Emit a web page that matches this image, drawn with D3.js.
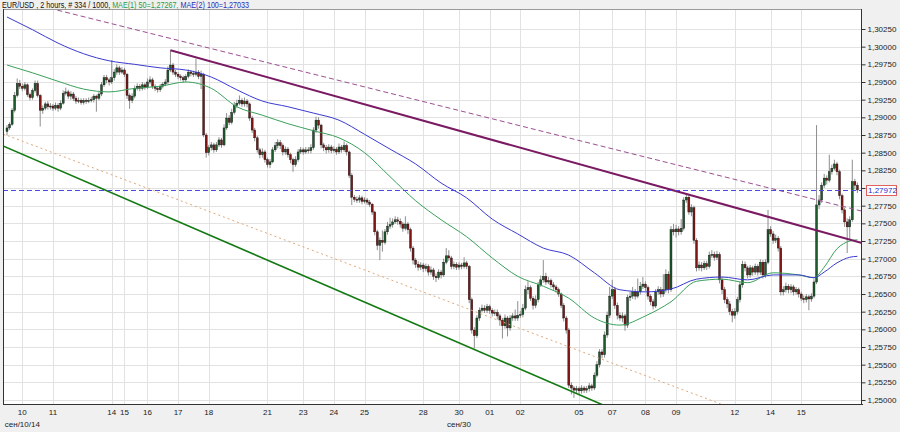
<!DOCTYPE html>
<html><head><meta charset="utf-8">
<script src="https://cdn.jsdelivr.net/npm/d3@7"></script>
<style>
html,body{margin:0;padding:0;background:#f0f0f0;}
svg{display:block;}
text{font-family:"Liberation Sans",Arial,sans-serif;}
</style></head><body>
<svg id="chart" width="900" height="432"></svg>
<script>
// ---------------- DATA ----------------
const titleParts = ["EUR/USD , 2 hours, # 334 / 1000, ", "MAE(1) 50=1,27267, ", "MAE(2) 100=1,27033"];
// prices are stored in pips above 1.2000  (price = 1.2 + v * 0.0001)
const PRICE_BASE = 1.2, PIP = 0.0001;
const firstOpen = 880;
const closes = [
885,890,910,931,948,944,941,946,932,928,
938,948,931,910,913,919,915,916,913,917,
913,920,934,936,930,933,927,923,924,921,
924,923,924,925,930,927,933,946,956,953,
950,956,964,970,964,967,961,931,924,930,
941,944,941,946,943,950,953,944,941,939,
944,947,950,967,974,964,961,958,956,953,
958,964,962,961,964,958,961,875,850,857,
861,854,861,868,861,885,899,893,907,917,
920,924,919,923,919,899,882,871,854,847,
851,840,833,837,854,860,864,860,851,855,
847,840,833,840,851,854,851,854,853,857,
882,896,889,861,857,854,858,853,855,851,
858,854,860,851,818,787,784,783,786,781,
783,780,777,766,738,719,726,723,738,746,
748,752,755,753,749,743,749,741,715,698,
692,688,691,686,689,681,684,675,673,681,
677,695,704,701,689,692,688,691,689,694,
689,642,599,591,616,627,630,627,632,627,
623,624,619,613,605,616,602,616,619,616,
620,621,630,656,659,644,634,642,663,670,
675,667,669,663,660,656,650,634,616,599,
521,517,514,516,513,517,514,516,520,517,
535,550,568,564,592,620,647,656,634,620,
616,619,606,645,647,653,647,653,661,664,
659,647,639,633,653,656,650,656,678,656,
741,738,742,738,743,783,787,766,772,726,
687,691,687,693,689,705,706,702,706,670,
656,642,636,625,620,625,642,663,692,687,
677,687,681,689,681,695,677,695,741,735,
726,729,715,653,656,661,656,660,653,656,
650,644,642,646,643,647,667,776,783,804,
814,811,823,828,834,823,789,769,752,745,
755,809,804,797.2];
const highs = [
889,893,913,936,955,953,948,950,948,935,
941,952,952,933,917,922,923,920,919,921,
920,924,938,942,939,937,936,930,928,927,
927,927,928,929,933,932,936,950,960,960,
956,981,968,975,973,971,970,963,934,934,
945,948,947,950,949,955,958,956,947,944,
947,950,954,972,995,977,967,964,961,959,
961,968,967,966,983,967,966,963,878,861,
865,864,865,872,871,890,906,903,912,922,
925,931,927,928,926,921,902,885,874,857,
856,854,843,841,858,865,869,868,863,859,
858,850,843,845,855,858,857,858,858,862,
886,901,900,891,864,861,862,861,859,858,
863,861,866,863,853,821,790,788,790,789,
787,786,783,779,768,741,730,740,742,752,
758,757,760,759,757,752,760,752,744,718,
701,696,695,694,693,692,689,687,679,685,
684,700,715,712,704,696,695,695,694,702,
697,691,645,603,620,631,635,634,636,635,
630,628,628,622,616,621,619,620,623,628,
640,626,636,662,668,662,647,648,667,676,
698,680,674,672,667,663,659,652,637,619,
602,525,520,520,519,521,520,520,524,523,
539,555,572,572,597,625,660,670,660,638,
624,624,622,649,653,660,657,672,667,674,
668,662,650,643,657,661,660,678,685,682,
746,749,748,746,756,787,792,790,777,775,
729,696,695,697,697,710,712,710,711,709,
674,660,646,640,629,630,646,667,697,696,
690,691,690,693,692,699,698,699,769,746,
739,734,732,718,661,666,664,664,663,660,
659,653,648,650,649,651,671,889,790,808,
820,818,847,833,840,837,826,792,772,757,
760,840,813,808];
const lows = [
875,882,888,907,928,940,937,938,929,924,
925,935,928,887,905,910,911,911,909,910,
908,910,918,931,926,925,923,919,920,918,
918,919,920,921,921,908,924,930,943,948,
945,947,952,960,960,961,957,926,912,920,
927,938,937,938,939,940,947,940,937,935,
936,941,944,947,964,960,957,954,952,949,
950,955,958,957,958,954,940,872,843,846,
853,850,851,858,857,859,882,889,890,904,
913,917,915,915,914,895,878,866,850,842,
843,836,829,828,835,851,856,855,846,847,
843,835,823,830,837,848,847,848,849,849,
854,878,884,856,852,849,850,849,850,847,
848,850,851,846,814,776,780,779,779,777,
778,776,773,762,733,712,698,710,720,734,
742,744,749,748,744,738,740,735,710,692,
687,683,684,681,682,676,677,670,667,670,
672,674,692,697,685,685,684,684,685,686,
685,637,594,573,588,612,624,623,623,622,
618,619,614,605,587,601,590,598,612,612,
612,616,617,627,650,640,628,630,638,660,
666,663,664,659,656,652,646,630,611,594,
517,508,503,509,507,509,510,510,512,513,
514,532,546,559,560,588,616,643,629,614,
612,610,598,602,640,643,642,644,649,657,
654,642,634,628,630,649,645,646,652,651,
653,733,730,733,734,740,779,762,760,721,
682,683,682,684,684,686,701,697,698,665,
650,637,630,620,610,615,621,638,659,682,
672,673,676,677,676,677,672,673,692,731,
721,722,710,648,648,652,651,651,648,649,
645,640,637,638,627,639,644,664,770,779,
800,805,808,819,825,818,784,764,745,708,
727,752,798,793];
// moving averages (bar index -> pips above 1.2000)
const maBars = [0,10,20,30,40,50,60,70,80,90,100,110,120,130,140,150,160,170,180,190,200,210,220,230,240,250,260,270,280,290,300,310,316,320,325,330,333];
const ma50  = [974,963,951,940,936,941,944,950,941,915,903,891,881,871,850,816,782,755,731,701,675,661,644,616,606,619,639,668,671,666,680,677,673,688,714,725,726.7];
const ma100 = [1042,1024,1005,990,980,975,970,967,957,939,923,915,906,896,876,855,834,807,786,756,735,715,705,680,656,653,657,671,674,670,677,677,673,681,694,702,703.3];
// price axis
const yTickValues = [1.25,1.2525,1.255,1.2575,1.26,1.2625,1.265,1.2675,1.27,1.2725,1.275,1.2775,1.28,1.2825,1.285,1.2875,1.29,1.2925,1.295,1.2975,1.30,1.3025];
// time axis
const xTickBars   = [6,18,41,46,55,67,79,102,116,128,140,163,177,189,201,224,237,250,262,285,299,311];
const xTickLabels = ["10","11","14","15","16","17","18","21","23","24","25","28","30","01","02","05","07","08","09","12","14","15"];
const xSubBars   = [6,177];
const xSubLabels = ["сен/10/14","сен/30"];
const lastPrice = 1.27972;
// trend lines: two anchors [bar index, price] each
const resistanceLine = [[64,1.2995],[335,1.2722]];
const channelTopLine = [[0,1.30695],[335,1.2767]];
const supportLine    = [[0,1.2857],[234,1.2492]];
const midLine        = [[0,1.28744],[279,1.2495]];

// ---------------- DRAW ----------------
const W = 900, H = 432;
const plot = {left:3, top:9, right:862, bottom:405};
const svg = d3.select('#chart');
const toPrice = v => PRICE_BASE + v * PIP;
const N = closes.length;

svg.append('rect').attr('width', W).attr('height', H).attr('fill', '#f0f0f0');
svg.append('rect').attr('x', plot.left).attr('y', plot.top)
  .attr('width', plot.right - plot.left).attr('height', plot.bottom - plot.top).attr('fill', '#fff');

svg.append('defs').append('clipPath').attr('id', 'clip').append('rect')
  .attr('x', plot.left).attr('y', plot.top)
  .attr('width', plot.right - plot.left).attr('height', plot.bottom - plot.top);

const x = d3.scaleLinear().domain([0, N - 1]).range([7, 857.4]);
const y = d3.scaleLinear().domain([1.25, 1.3025]).range([400, 29]);

// grid
const grid = svg.append('g');
grid.selectAll('line.h').data(yTickValues).enter().append('line')
  .attr('x1', plot.left).attr('x2', plot.right)
  .attr('y1', d => Math.round(y(d)) + 0.5).attr('y2', d => Math.round(y(d)) + 0.5)
  .attr('stroke', '#e2e2e2').attr('stroke-width', 1);
grid.selectAll('line.v').data(xTickBars).enter().append('line')
  .attr('y1', plot.top).attr('y2', plot.bottom)
  .attr('x1', d => Math.round(x(d)) + 0.5).attr('x2', d => Math.round(x(d)) + 0.5)
  .attr('stroke', '#e2e2e2').attr('stroke-width', 1);

const g = svg.append('g').attr('clip-path', 'url(#clip)');

// candles
const candles = d3.range(N).map(i => ({
  i, o: toPrice(i === 0 ? firstOpen : closes[i - 1]), c: toPrice(closes[i]),
  h: toPrice(highs[i]), l: toPrice(lows[i])
}));
const bodyW = 2;
const cg = g.append('g');
cg.selectAll('line').data(candles).enter().append('line')
  .attr('x1', d => x(d.i)).attr('x2', d => x(d.i))
  .attr('y1', d => y(d.h)).attr('y2', d => y(d.l))
  .attr('stroke', '#8e8e8e').attr('stroke-width', 1);
cg.selectAll('rect').data(candles).enter().append('rect')
  .attr('x', d => x(d.i) - bodyW / 2).attr('width', bodyW)
  .attr('y', d => y(Math.max(d.o, d.c)))
  .attr('height', d => Math.max(1, Math.abs(y(d.o) - y(d.c))))
  .attr('fill', d => d.c >= d.o ? '#1d5a2c' : '#7e1616')
  .attr('stroke', '#141414').attr('stroke-width', 0.4);

// moving averages
const maLine = arr => d3.line().x((d, k) => x(maBars[k])).y(d => y(toPrice(d))).curve(d3.curveMonotoneX)(arr);
g.append('path').attr('d', maLine(ma50)).attr('fill', 'none').attr('stroke', '#3aa05a').attr('stroke-width', 1);
g.append('path').attr('d', maLine(ma100)).attr('fill', 'none').attr('stroke', '#3a3ad0').attr('stroke-width', 1);

// trend lines: extended to the right edge; optionally also to the left edge
function trend(anchors, color, width, dash, extendLeft) {
  const [a, b] = anchors;
  const x0 = x(a[0]), y0 = y(a[1]), x1 = x(b[0]), y1 = y(b[1]);
  const m = (y1 - y0) / (x1 - x0);
  const L = extendLeft ? plot.left : x0, R = plot.right;
  g.append('line').attr('x1', L).attr('y1', y0 + (L - x0) * m)
    .attr('x2', R).attr('y2', y0 + (R - x0) * m)
    .attr('stroke', color).attr('stroke-width', width)
    .attr('stroke-dasharray', dash || null);
}
trend(midLine, '#e0a878', 1, '2,3', true);
trend(supportLine, '#137a13', 1.6, null, true);
trend(channelTopLine, '#9a5090', 1, '5,3', true);
trend(resistanceLine, '#7a1a62', 2, null, false);

// current price line
g.append('line').attr('x1', plot.left).attr('x2', plot.right)
  .attr('y1', Math.round(y(lastPrice)) + 0.5).attr('y2', Math.round(y(lastPrice)) + 0.5)
  .attr('stroke', '#4a4ae0').attr('stroke-width', 1).attr('stroke-dasharray', '5,3');

// frame
svg.append('rect').attr('x', plot.left + 0.5).attr('y', plot.top + 0.5)
  .attr('width', plot.right - plot.left - 1).attr('height', plot.bottom - plot.top - 1)
  .attr('fill', 'none').attr('stroke', '#9a9a9a');
svg.append('line').attr('x1', plot.left).attr('x2', plot.right + 1)
  .attr('y1', plot.bottom - 0.5).attr('y2', plot.bottom - 0.5).attr('stroke', '#333');
svg.append('line').attr('x1', plot.left + 0.5).attr('x2', plot.left + 0.5)
  .attr('y1', plot.top).attr('y2', plot.bottom).attr('stroke', '#333');

// right price axis
const fmt = d => d.toFixed(5).replace('.', ',');
const yAxis = d3.axisRight(y).tickValues(yTickValues).tickSize(4).tickPadding(2).tickFormat(fmt);
const ya = svg.append('g').attr('transform', `translate(${plot.right - 0.5},0)`).call(yAxis);
ya.select('.domain').attr('d', `M0,${plot.top}V${plot.bottom}`).attr('stroke', '#333');
ya.selectAll('.tick line').attr('stroke', '#333');
ya.selectAll('.tick text').attr('font-size', 8).attr('fill', '#222')
  .attr('font-family', '"Liberation Sans",Arial,sans-serif')
  .style('display', d => Math.abs(d - lastPrice) < 0.0012 ? 'none' : null);

// last price label
const ly = y(lastPrice);
svg.append('rect').attr('x', 866.5).attr('y', Math.round(ly) - 4.5).attr('width', 30).attr('height', 10)
  .attr('fill', '#fff').attr('stroke', '#e06060').attr('stroke-width', 1);
svg.append('text').attr('x', 868).attr('y', ly + 3.2).attr('font-size', 8).attr('fill', '#2a2ad0').text(fmt(lastPrice));

// bottom time axis
const xa = svg.append('g');
xa.selectAll('text.t').data(xTickBars).enter().append('text')
  .attr('x', d => x(d)).attr('y', 415).attr('text-anchor', 'middle')
  .attr('font-size', 8).attr('fill', '#222').text((d, k) => xTickLabels[k]);
xa.selectAll('text.s').data(xSubBars).enter().append('text')
  .attr('x', d => x(d)).attr('y', 427).attr('text-anchor', 'middle')
  .attr('font-size', 8).attr('fill', '#222').text((d, k) => xSubLabels[k]);

// title
const title = svg.append('text').attr('transform', 'translate(2,8) scale(0.8,1)').attr('font-size', 9);
const titleColors = ['#111', '#2a9a4a', '#2b2bb8'];
titleParts.forEach((t, k) => title.append('tspan').attr('fill', titleColors[k]).text(t));
</script>
</body></html>
